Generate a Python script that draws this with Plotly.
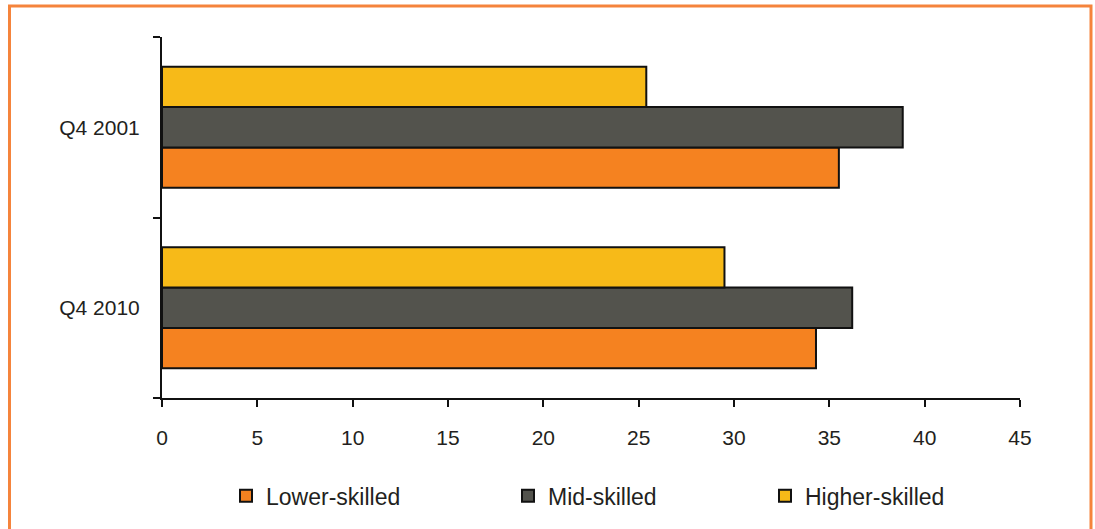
import plotly.graph_objects as go

# Share of employment by skill level, per period
periods = ["Q4 2010", "Q4 2001"]
lower_skilled = [34.3, 35.5]
mid_skilled = [36.2, 38.85]
higher_skilled = [29.5, 25.4]
x_ticks = [0, 5, 10, 15, 20, 25, 30, 35, 40, 45]

series = [
    ("Lower-skilled", lower_skilled, "#F58220", "legend"),
    ("Mid-skilled", mid_skilled, "#53534D", "legend2"),
    ("Higher-skilled", higher_skilled, "#F7BA18", "legend3"),
]

FONT = "Liberation Sans, Arial, Helvetica, sans-serif"
INK = "#231F20"

fig = go.Figure()
for name, vals, color, lg in series:
    fig.add_trace(go.Bar(
        y=periods, x=vals, name=name, orientation="h",
        marker=dict(color=color, line=dict(color="#111111", width=2)),
        legend=lg, showlegend=True,
    ))

legend_common = dict(
    orientation="h", yanchor="middle", xanchor="left", y=-0.271,
    font=dict(family=FONT, size=23, color=INK),
    bgcolor="rgba(0,0,0,0)", borderwidth=0,
    itemwidth=30,
)

fig.update_layout(
    width=1095, height=529,
    margin=dict(l=162, r=75, t=37, b=131),
    paper_bgcolor="white", plot_bgcolor="white",
    showlegend=True,
    barmode="group", bargap=0.33, bargroupgap=0,
    font=dict(family=FONT, size=21, color=INK),
    legend=dict(x=(226 - 162) / 858, **legend_common),
    legend2=dict(x=(508 - 162) / 858, **legend_common),
    legend3=dict(x=(765 - 162) / 858, **legend_common),
    xaxis=dict(
        range=[0, 45], tickvals=x_ticks, ticktext=[str(v) for v in x_ticks],
        showgrid=False, zeroline=False,
        showline=True, linecolor="#111111", linewidth=2,
        ticks="outside", ticklen=7, tickwidth=2, tickcolor="#111111",
        ticklabelstandoff=13,
        tickfont=dict(family=FONT, size=21, color=INK),
    ),
    yaxis=dict(
        type="category", categoryorder="array", categoryarray=periods,
        range=[-0.5, 1.5], tickson="boundaries",
        showgrid=False, zeroline=False,
        showline=True, linecolor="#111111", linewidth=2,
        ticks="outside", ticklen=7, tickwidth=2, tickcolor="#111111",
        ticklabelstandoff=16,
        tickfont=dict(family=FONT, size=21, color=INK),
    ),
    shapes=[dict(
        type="rect", xref="paper", yref="paper",
        x0=(9.5 - 162) / 858, x1=(1091 - 162) / 858,
        y0=(398 - 540) / 361, y1=(398 - 6) / 361,
        line=dict(color="#F5843C", width=3), fillcolor="rgba(0,0,0,0)",
        layer="below",
    )],
)

fig.write_html("out.html")
